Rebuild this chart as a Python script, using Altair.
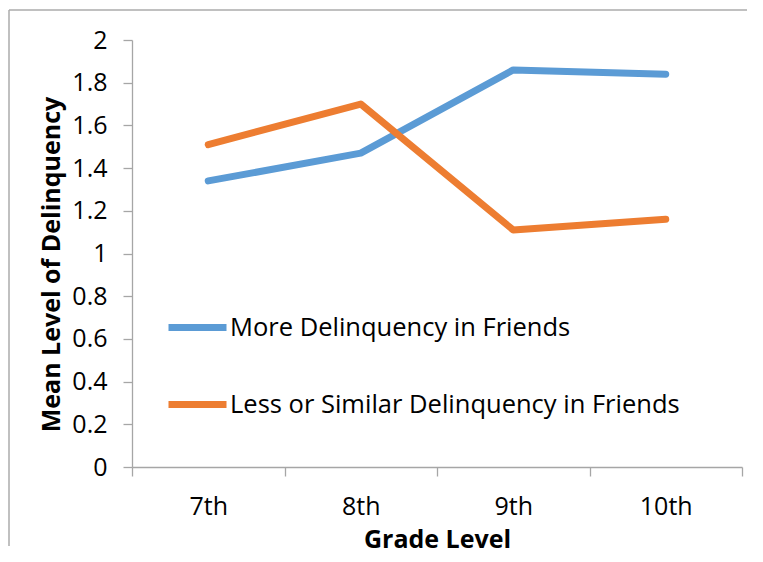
import altair as alt
import pandas as pd

grades = ["7th", "8th", "9th", "10th"]
more_delinquency = [1.34, 1.47, 1.86, 1.84]
less_delinquency = [1.51, 1.70, 1.11, 1.16]
series_names = ["More Delinquency in Friends", "Less or Similar Delinquency in Friends"]
series_colors = ["#5B9BD5", "#ED7D31"]
y_tick_values = [0, 0.2, 0.4, 0.6, 0.8, 1, 1.2, 1.4, 1.6, 1.8, 2]

df = pd.DataFrame({
    "grade": grades * 2,
    "value": more_delinquency + less_delinquency,
    "series": [series_names[0]] * len(grades) + [series_names[1]] * len(grades),
})

FONT = "Open Sans"
AXIS_GRAY = "#A6A6A6"

lines = alt.Chart(df).mark_line(strokeWidth=7, strokeCap="round", strokeJoin="round").encode(
    x=alt.X(
        "grade:N", sort=grades, bandPosition=0.5,
        scale=alt.Scale(type="band", paddingInner=0, paddingOuter=0),
        axis=alt.Axis(
            title="Grade Level", tickBand="extent", labelAngle=0,
            labelFont=FONT, labelFontSize=25, labelColor="#000000", labelPadding=18,
            titleFont=FONT, titleFontSize=25, titleFontWeight="bold", titleColor="#000000",
            titlePadding=8, domainColor=AXIS_GRAY, domainWidth=1.3, tickColor=AXIS_GRAY,
            tickWidth=1.3, tickSize=9, grid=False,
        ),
    ),
    y=alt.Y(
        "value:Q",
        scale=alt.Scale(domain=[0, 2], nice=False, zero=True),
        axis=alt.Axis(
            title="Mean Level of Delinquency", values=y_tick_values, format="~g",
            labelFont=FONT, labelFontSize=25, labelColor="#000000", labelPadding=16,
            titleFont=FONT, titleFontSize=25, titleFontWeight="bold", titleColor="#000000",
            titlePadding=7, titleY=224, domainColor=AXIS_GRAY, domainWidth=1.3,
            tickColor=AXIS_GRAY, tickWidth=1.3, tickSize=9, grid=False,
        ),
    ),
    color=alt.Color(
        "series:N", sort=series_names,
        scale=alt.Scale(domain=series_names, range=series_colors),
        legend=alt.Legend(
            title=None, orient="none", legendX=33, legendY=255,
            symbolType="stroke", symbolSize=3364, symbolStrokeWidth=7,
            labelFont=FONT, labelFontSize=25.5, labelColor="#000000", labelOffset=0,
            rowPadding=30, labelLimit=600,
        ),
    ),
)

frame_top = alt.Chart(pd.DataFrame({"f": [0]})).mark_rule(
    stroke="#ABABAB", strokeWidth=1.5
).encode(x=alt.value(-123), x2=alt.value(615), y=alt.value(-30))

frame_left = alt.Chart(pd.DataFrame({"f": [0]})).mark_rule(
    stroke="#ABABAB", strokeWidth=1.5
).encode(x=alt.value(-123), y=alt.value(-30), y2=alt.value(506))

chart = alt.layer(frame_top, frame_left, lines).properties(
    width=610, height=427,
    autosize=alt.AutoSizeParams(type="none"),
    padding={"left": 124, "top": 32, "right": 13, "bottom": 87},
).configure_view(stroke=None)

chart.save("out.html", embed_options={"renderer": "svg", "actions": False})
